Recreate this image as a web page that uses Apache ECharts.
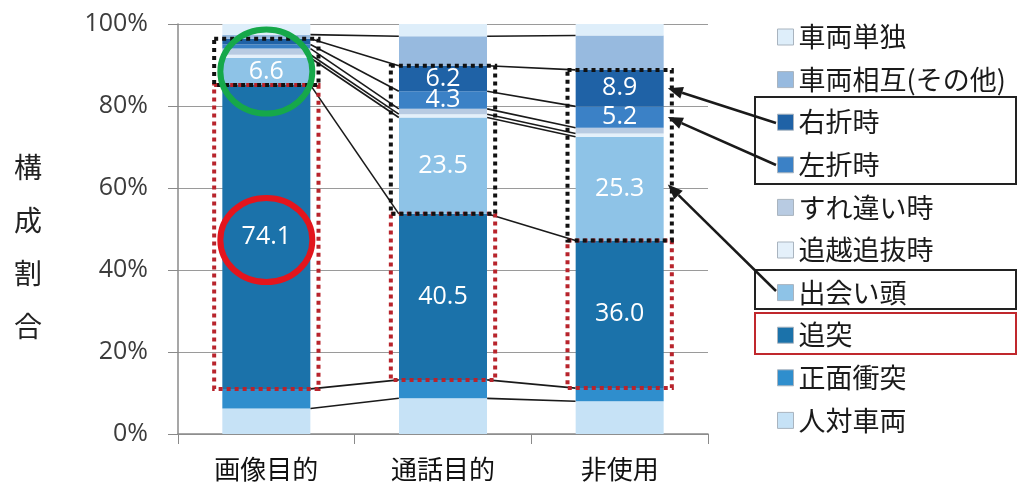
<!DOCTYPE html>
<html><head><meta charset="utf-8">
<script src="https://cdn.jsdelivr.net/npm/echarts@6/dist/echarts.min.js"></script>
<style>html,body{margin:0;padding:0;background:#fff}#c{width:1018px;height:484px}</style>
</head><body><div id="c"></div>
<script>
// ---- data ----
const categories = ['画像目的', '通話目的', '非使用'];
const seriesNames = ['人対車両', '正面衝突', '追突', '出会い頭', '追越追抜時', 'すれ違い時', '左折時', '右折時', '車両相互(その他)', '車両単独'];
const jintaiSharyo = [6.2, 8.7, 8.0];
const shomenShototsu = [4.8, 4.5, 3.2];
const tsuitotsu = [74.1, 40.5, 36.0];
const deaigashira = [6.6, 23.5, 25.3];
const oikoshiOinuki = [0.8, 0.8, 0.8];
const surechigai = [1.5, 1.3, 1.4];
const sasetsu = [1.0, 4.3, 5.2];
const usetsu = [1.4, 6.2, 8.9];
const sharyoSogo = [1.0, 7.2, 8.4];
const sharyoTandoku = [2.6, 3.0, 2.8];
const yTicks = [0, 20, 40, 60, 80, 100];
// which values carry a printed label (1 = shown)
const labelShown = {
  '追突': [1, 1, 1],
  '出会い頭': [1, 1, 1],
  '左折時': [0, 1, 1],
  '右折時': [0, 1, 1]
};

const values = [jintaiSharyo, shomenShototsu, tsuitotsu, deaigashira, oikoshiOinuki, surechigai, sasetsu, usetsu, sharyoSogo, sharyoTandoku];
const colors = ['#c6e2f6', '#2f8ecd', '#1b72aa', '#8ec3e7', '#e4f0fa', '#b8cbe2', '#3b81c6', '#1f62a6', '#97badf', '#deeefa'];

const chart = echarts.init(document.getElementById('c'), null, {renderer: 'canvas'});
const cjk = 'Noto Sans CJK JP';

const series = seriesNames.map((name, si) => ({
  name: name,
  type: 'bar',
  stack: 'total',
  barWidth: 88,
  data: values[si].map((v, ci) => ({
    value: v,
    label: {
      show: !!(labelShown[name] && labelShown[name][ci]),
      formatter: () => v.toFixed(1)
    }
  })),
  itemStyle: {color: colors[si]},
  label: {position: 'inside', color: '#ffffff', fontSize: 25, fontFamily: 'Open Sans'},
  emphasis: {disabled: true}
}));

chart.setOption({
  animation: false,
  backgroundColor: '#ffffff',
  grid: {left: 178, right: 310, top: 24, bottom: 50, containLabel: false},
  legend: {
    orient: 'vertical', left: 772, top: 17,
    data: seriesNames.slice().reverse(),
    selectedMode: false,
    itemWidth: 16, itemHeight: 16, itemGap: 12.6,
    icon: 'rect',
    itemStyle: {borderColor: '#a9b4bf', borderWidth: 1},
    textStyle: {fontSize: 27, lineHeight: 30, color: '#1a1a1a', fontFamily: cjk}
  },
  xAxis: {
    type: 'category', data: categories,
    axisLine: {lineStyle: {color: '#8a8a8a', width: 1.5}},
    axisTick: {show: true, length: 10, lineStyle: {color: '#8a8a8a'}},
    axisLabel: {fontSize: 26, margin: 22, color: '#111', fontFamily: cjk}
  },
  yAxis: {
    type: 'value', min: yTicks[0], max: yTicks[yTicks.length - 1], interval: 20,
    axisLine: {show: true, lineStyle: {color: '#8a8a8a', width: 1.5}},
    axisTick: {show: true, length: 10, lineStyle: {color: '#8a8a8a'}},
    splitLine: {lineStyle: {color: '#9a9a9a', width: 1}},
    axisLabel: {formatter: '{value}%', fontSize: 25, margin: 30, color: '#3c3c3c', fontFamily: 'Open Sans'}
  },
  series: series
});

// ---- annotation overlays, positioned from the data via the chart's scales ----
function px(ci, v) { return chart.convertToPixel({xAxisIndex: 0, yAxisIndex: 0}, [ci, v]); }
const cum = categories.map((c, ci) => {
  let s = 0; return values.map(arr => (s += arr[ci]));
});
const cx = categories.map((c, ci) => px(ci, 0)[0]);
const yPix = v => px(0, v)[1];
const half = (cx[1] - cx[0]) * 0.25;
const g = [];

// series lines between adjacent bars
for (let ci = 0; ci < categories.length - 1; ci++) {
  for (let k = 0; k < seriesNames.length - 1; k++) {
    g.push({type: 'line', z: 50, shape: {
      x1: cx[ci] + half, y1: yPix(cum[ci][k]),
      x2: cx[ci + 1] - half, y2: yPix(cum[ci + 1][k])
    }, style: {stroke: '#1a1a1a', lineWidth: 1.6}});
  }
}
// dotted boxes
categories.forEach((c, ci) => {
  const x = cx[ci] - half - 8, w = 2 * half + 16;
  const yRedBot = yPix(cum[ci][1]), yRedTop = yPix(cum[ci][2]), yBlkTop = yPix(cum[ci][7]);
  g.push({type: 'rect', z: 60, shape: {x: x, y: yRedTop, width: w, height: yRedBot - yRedTop},
    style: {fill: 'none', stroke: '#b8242c', lineWidth: 4, lineDash: [4, 4]}});
  g.push({type: 'rect', z: 61, shape: {x: x, y: yBlkTop, width: w, height: yRedTop - yBlkTop},
    style: {fill: 'none', stroke: '#111', lineWidth: 4, lineDash: [4, 4]}});
});
// circles on first bar
g.push({type: 'ellipse', z: 70, shape: {cx: cx[0], cy: yPix(cum[0][2] + deaigashira[0] / 2), rx: 46, ry: 42},
  style: {fill: 'none', stroke: '#16a84a', lineWidth: 6}});
g.push({type: 'ellipse', z: 70, shape: {cx: cx[0], cy: yPix(cum[0][1] + tsuitotsu[0] / 2) + 3, rx: 46, ry: 42},
  style: {fill: 'none', stroke: '#e3151d', lineWidth: 6}});
// legend highlight boxes
g.push({type: 'rect', z: 40, shape: {x: 755, y: 97, width: 261, height: 87}, style: {fill: 'none', stroke: '#222', lineWidth: 2}});
g.push({type: 'rect', z: 40, shape: {x: 755, y: 270, width: 261, height: 39}, style: {fill: 'none', stroke: '#222', lineWidth: 2}});
g.push({type: 'rect', z: 40, shape: {x: 755, y: 313, width: 261, height: 41}, style: {fill: 'none', stroke: '#c0282d', lineWidth: 2}});
// arrows from legend to third bar
function arrow(x1, y1, x2, y2) {
  const a = Math.atan2(y2 - y1, x2 - x1), L = 15, W = 6;
  const bx = x2 - L * Math.cos(a), by = y2 - L * Math.sin(a);
  g.push({type: 'line', z: 80, shape: {x1: x1, y1: y1, x2: bx, y2: by}, style: {stroke: '#1a1a1a', lineWidth: 2.5}});
  g.push({type: 'polygon', z: 80, shape: {points: [[x2, y2],
    [bx + W * Math.sin(a), by - W * Math.cos(a)], [bx - W * Math.sin(a), by + W * Math.cos(a)]]},
    style: {fill: '#1a1a1a'}});
}
const xr = cx[2] + half + 4;
arrow(776, 123, xr, yPix(cum[2][6] + usetsu[2] / 2));
arrow(776, 165, xr, yPix(cum[2][5] + sasetsu[2] / 2));
arrow(776, 291, xr, yPix(cum[2][2] + deaigashira[2] / 2 + 1));
// vertical y-axis name
g.push({type: 'text', z: 10, x: 28, y: 247, style: {text: '構\n成\n割\n合', font: '28px "Noto Sans CJK JP"',
  fill: '#222', textAlign: 'center', textVerticalAlign: 'middle', lineHeight: 53}});

chart.setOption({graphic: g});
</script>
</body></html>
